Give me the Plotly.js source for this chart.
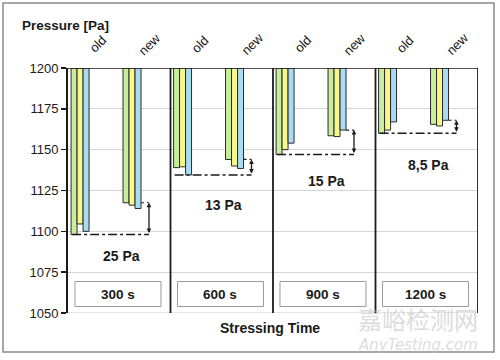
<!DOCTYPE html>
<html><head><meta charset="utf-8">
<script src="https://cdn.plot.ly/plotly-3.0.1.min.js"></script>
<style>html,body{margin:0;padding:0;background:#fff}#chart{width:500px;height:360px}</style>
</head><body><div id="chart"></div>
<script>
// ---- data ----
const categories = ['300 s', '600 s', '900 s', '1200 s'];
const groupLabels = ['old', 'new'];
const oldGreen  = [1098.0, 1139.0, 1147.0, 1160.0];
const oldYellow = [1104.5, 1139.5, 1150.0, 1162.0];
const oldBlue   = [1100.0, 1134.5, 1154.0, 1167.0];
const newGreen  = [1117.5, 1144.0, 1158.5, 1165.5];
const newYellow = [1116.0, 1140.0, 1158.0, 1164.5];
const newBlue   = [1114.0, 1138.5, 1162.0, 1168.0];
const diffLabels = ['25 Pa', '13 Pa', '15 Pa', '8,5 Pa'];
const yTicks = [1050, 1075, 1100, 1125, 1150, 1175, 1200];
const seriesNames = ['green', 'yellow', 'blue'];

// ---- styling / layout constants ----
const FONT = 'Liberation Sans, Arial, sans-serif';
const BASE = 1200;
const barW = 0.0585;
const oldStart = 0.03, newStart = 0.537;
const arrowOff = 0.79;
const colors = ['#c8ee9c', '#f7f78c', '#a9dcf2'];
const labelShift = [-21, -30, -26, -32];

const oldSeries = [oldGreen, oldYellow, oldBlue];
const newSeries = [newGreen, newYellow, newBlue];

const traces = seriesNames.map((name, k) => {
  const x = [], y = [];
  categories.forEach((c, g) => {
    x.push(g + oldStart + (k + 0.5) * barW); y.push(oldSeries[k][g] - BASE);
    x.push(g + newStart + (k + 0.5) * barW); y.push(newSeries[k][g] - BASE);
  });
  return {
    type: 'bar', name: name, x: x, y: y, base: BASE, width: barW,
    marker: {color: colors[k], line: {color: '#2b2b2b', width: 1}},
    hoverinfo: 'skip', showlegend: false
  };
});

const shapes = [];
const annotations = [];

// frame around figure
shapes.push({type: 'rect', xref: 'paper', yref: 'paper', x0: -0.1585, x1: 1.039, y0: -0.159, y1: 1.2653,
  line: {color: '#8a8a8a', width: 1.5}, layer: 'below'});
// plot borders
shapes.push({type: 'line', xref: 'paper', yref: 'y', x0: 0, x1: 1, y0: 1050, y1: 1050, line: {color: '#c8c8c8', width: 1}, layer: 'below'});
shapes.push({type: 'line', xref: 'paper', yref: 'y', x0: 0, x1: 1, y0: 1200, y1: 1200, line: {color: '#1a1a1a', width: 1.5}});
[1, 2, 3, 4].forEach(xv => shapes.push({type: 'line', xref: 'x', yref: 'y', x0: xv, x1: xv, y0: 1050, y1: 1200,
  line: {color: '#1a1a1a', width: 1.8}}));

categories.forEach((c, g) => {
  const oldMin = Math.min(oldGreen[g], oldYellow[g], oldBlue[g]);
  const newMax = Math.max(newGreen[g], newYellow[g], newBlue[g]);
  const ax = g + arrowOff;
  // box
  shapes.push({type: 'rect', xref: 'x', yref: 'y', x0: g + 0.068, x1: g + 0.907, y0: 1054, y1: 1069.3,
    line: {color: '#9a9a9a', width: 1}, fillcolor: '#ffffff'});
  annotations.push({x: g + 0.4875, y: 1061.6, xref: 'x', yref: 'y', text: '<b>' + c + '</b>', showarrow: false,
    font: {family: FONT, size: 13.5, color: '#1a1a1a'}});
  // dash-dot baseline
  shapes.push({type: 'line', xref: 'x', yref: 'y', x0: g + oldStart + 0.01, x1: ax, y0: oldMin, y1: oldMin,
    line: {color: '#1a1a1a', width: 1.5, dash: 'dashdot'}});
  // top dotted connector
  shapes.push({type: 'line', xref: 'x', yref: 'y', x0: g + newStart + 3 * barW, x1: ax, y0: newMax, y1: newMax,
    line: {color: '#1a1a1a', width: 1.2, dash: 'dot'}});
  // double arrow
  annotations.push({x: ax, y: newMax, ax: ax, ay: oldMin, xref: 'x', yref: 'y', axref: 'x', ayref: 'y',
    text: '', showarrow: true, arrowhead: 2, startarrowhead: 2, arrowside: 'end+start', arrowsize: 0.7, arrowwidth: 1.3,
    arrowcolor: '#1a1a1a'});
  // difference label
  annotations.push({x: g + 0.52, y: oldMin, xref: 'x', yref: 'y', yshift: labelShift[g], text: '<b>' + diffLabels[g] + '</b>',
    showarrow: false, font: {family: FONT, size: 14, color: '#1a1a1a'}});
  // old / new labels
  [oldStart, newStart].forEach((st, i) => {
    annotations.push({x: g + st + 0.255, y: 1, xref: 'x', yref: 'paper', yanchor: 'middle', yshift: 24,
      text: groupLabels[i], textangle: -45, showarrow: false, font: {family: FONT, size: 13, color: '#1a1a1a'}});
  });
});

annotations.push({x: 0.4927, y: -0.061, xref: 'paper', yref: 'paper', xanchor: 'center', yanchor: 'middle',
  text: '<b>Stressing Time</b>', showarrow: false, font: {family: FONT, size: 14, color: '#1a1a1a'}});
// watermark
annotations.push({x: 0.8537, y: -0.021, xref: 'paper', yref: 'paper', xanchor: 'center', yanchor: 'middle',
  text: '嘉峪检测网', showarrow: false, font: {family: 'Noto Sans CJK SC', size: 24, color: 'rgba(190,190,190,0.55)'}});
annotations.push({x: 0.8537, y: -0.13, xref: 'paper', yref: 'paper', xanchor: 'center', yanchor: 'middle',
  text: '<i>AnyTesting.com</i>', showarrow: false, font: {family: 'DejaVu Sans, sans-serif', size: 15, color: 'rgba(190,190,190,0.55)'}});

const layout = {
  width: 500, height: 360,
  margin: {l: 68, r: 22, t: 68, b: 47},
  paper_bgcolor: '#ffffff', plot_bgcolor: '#ffffff',
  barmode: 'overlay', bargap: 0,
  title: {text: '<b>Pressure [Pa]</b>', x: 0.044, xanchor: 'left', y: 0.9306, yanchor: 'middle', xref: 'container', yref: 'container',
    font: {family: FONT, size: 13.5, color: '#1a1a1a'}},
  xaxis: {range: [0, 4], visible: false, fixedrange: true},
  yaxis: {range: [1050, 1200], tickvals: yTicks, ticks: 'outside', ticklen: 5, tickwidth: 1.5, tickcolor: '#1a1a1a',
    showline: true, linecolor: '#1a1a1a', linewidth: 2, showgrid: true, gridcolor: '#d6d6d6', gridwidth: 1,
    zeroline: false, tickfont: {family: FONT, size: 13, color: '#1a1a1a'}, fixedrange: true},
  shapes: shapes, annotations: annotations
};

Plotly.newPlot('chart', traces, layout, {displayModeBar: false, staticPlot: true});
</script>
</body></html>
